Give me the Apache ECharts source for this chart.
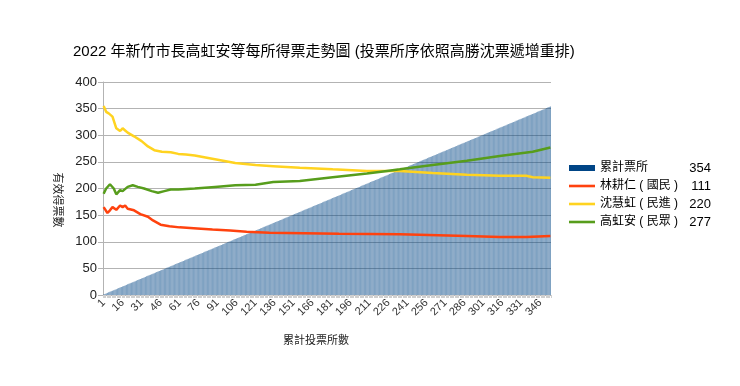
<!DOCTYPE html>
<html>
<head>
<meta charset="utf-8">
<script src="https://cdn.jsdelivr.net/npm/echarts@6/dist/echarts.min.js"></script>
<style>
html,body{margin:0;padding:0;background:#fff;}
#chart{width:740px;height:386px;}
</style>
</head>
<body>
<div id="chart"></div>
<script>
// Cumulative polling-station count (x categories and bar heights)
const stations = [
1,2,3,4,5,6,7,8,9,10,11,12,13,14,15,16,17,18,19,20,21,22,23,24,25,26,27,28,29,30,
31,32,33,34,35,36,37,38,39,40,41,42,43,44,45,46,47,48,49,50,51,52,53,54,55,56,57,58,59,60,
61,62,63,64,65,66,67,68,69,70,71,72,73,74,75,76,77,78,79,80,81,82,83,84,85,86,87,88,89,90,
91,92,93,94,95,96,97,98,99,100,101,102,103,104,105,106,107,108,109,110,111,112,113,114,115,116,117,118,119,120,
121,122,123,124,125,126,127,128,129,130,131,132,133,134,135,136,137,138,139,140,141,142,143,144,145,146,147,148,149,150,
151,152,153,154,155,156,157,158,159,160,161,162,163,164,165,166,167,168,169,170,171,172,173,174,175,176,177,178,179,180,
181,182,183,184,185,186,187,188,189,190,191,192,193,194,195,196,197,198,199,200,201,202,203,204,205,206,207,208,209,210,
211,212,213,214,215,216,217,218,219,220,221,222,223,224,225,226,227,228,229,230,231,232,233,234,235,236,237,238,239,240,
241,242,243,244,245,246,247,248,249,250,251,252,253,254,255,256,257,258,259,260,261,262,263,264,265,266,267,268,269,270,
271,272,273,274,275,276,277,278,279,280,281,282,283,284,285,286,287,288,289,290,291,292,293,294,295,296,297,298,299,300,
301,302,303,304,305,306,307,308,309,310,311,312,313,314,315,316,317,318,319,320,321,322,323,324,325,326,327,328,329,330,
331,332,333,334,335,336,337,338,339,340,341,342,343,344,345,346,347,348,349,350,351,352,353,354
];

const seriesNames = ['累計票所', '林耕仁 ( 國民 )', '沈慧虹 ( 民進 )', '高虹安 ( 民眾 )'];
const legendValues = [354, 111, 220, 277];

// Readings [station index, votes] taken from the reference lines
const linKeys = [[1,165],[4,154],[6,159],[8,165],[11,160],[14,168],[16,165],[18,168],[20,162],[25,159],[30,152],[36,147],[40,140],[46,132],[53,129],[61,127],[75,125],[87,123],[101,121],[114,119],[132,117],[187,115],[235,114],[288,111],[314,109],[335,109],[354,111]];
const shenKeys = [[1,355],[3,344],[5,341],[8,335],[11,313],[14,308],[16,313],[18,309],[20,305],[25,298],[31,289],[36,279],[41,272],[47,269],[54,268],[60,265],[66,264],[73,262],[89,255],[105,248],[121,244],[135,242],[156,239],[182,236],[209,233],[235,233],[261,229],[288,226],[314,224],[335,224],[340,221],[354,220]];
const gaoKeys = [[1,190],[3,200],[6,208],[9,200],[11,189],[14,197],[16,195],[20,203],[24,206],[28,203],[33,200],[39,195],[44,192],[49,195],[54,198],[60,198],[73,200],[89,203],[105,206],[121,207],[135,212],[156,214],[182,221],[209,228],[225,233],[235,236],[261,244],[288,252],[314,261],[340,269],[354,277]];

const colors = ['#004586', '#ff420e', '#ffd320', '#579d1c'];
const FONT = "'Liberation Sans', 'Noto Sans CJK TC', sans-serif";

function toSeries(keys) {
  const arr = stations.map(() => null);
  keys.forEach(([i, v]) => { arr[i - 1] = v; });
  return arr;
}

const categories = stations.map(String);
const chart = echarts.init(document.getElementById('chart'), null, {renderer: 'canvas'});

const lineSeries = [linKeys, shenKeys, gaoKeys].map((keys, k) => ({
  name: seriesNames[k + 1],
  type: 'line',
  data: toSeries(keys),
  connectNulls: true,
  symbol: 'none',
  showSymbol: false,
  lineStyle: {color: colors[k + 1], width: 2.5},
  itemStyle: {color: colors[k + 1]},
  z: 3,
  animation: false
}));

const legendData = seriesNames.map((n, i) => {
  if (i === 0) return {name: n, icon: 'rect', itemStyle: {color: colors[0], opacity: 1}};
  return {name: n, icon: 'path://M0,0L26,0L26,2.6L0,2.6Z', itemStyle: {color: colors[i]}};
});

chart.setOption({
  animation: false,
  textStyle: {fontFamily: FONT},
  title: {
    text: '2022 年新竹市長高虹安等每所得票走勢圖 (投票所序依照高勝沈票遞增重排)',
    left: 73, top: 44, padding: 0,
    textStyle: {fontSize: 15, fontWeight: 'normal', color: '#000', fontFamily: FONT}
  },
  grid: {left: 103, right: 189, top: 82, bottom: 91, containLabel: false},
  legend: {
    orient: 'vertical', left: 569, top: 159, padding: 0,
    itemWidth: 26, itemHeight: 6, itemGap: 0,
    data: legendData,
    formatter: function (name) {
      const idx = seriesNames.indexOf(name);
      return '{n|' + name + '}{v|' + legendValues[idx] + '}';
    },
    textStyle: {
      fontFamily: FONT, fontSize: 12, color: '#000', lineHeight: 18,
      rich: {
        n: {width: 89, fontSize: 12, fontFamily: FONT, color: '#000', lineHeight: 18},
        v: {width: 22, align: 'right', fontSize: 13, fontFamily: FONT, color: '#000', lineHeight: 18}
      }
    }
  },
  xAxis: {
    type: 'category',
    data: categories,
    boundaryGap: true,
    axisLine: {show: true, lineStyle: {color: '#b3b3b3'}},
    axisTick: {show: true, interval: 0, length: 3, lineStyle: {color: '#cfcfcf'}},
    axisLabel: {
      interval: 14, rotate: 45, fontSize: 11, color: '#333', margin: 6, fontFamily: FONT
    },
    splitLine: {show: false}
  },
  yAxis: {
    type: 'value', min: 0, max: 400, interval: 50,
    axisLine: {show: true, lineStyle: {color: '#b3b3b3'}},
    axisTick: {show: true, length: 5, lineStyle: {color: '#b3b3b3'}},
    axisLabel: {fontSize: 13, color: '#222', margin: 6, fontFamily: FONT},
    splitLine: {show: true, lineStyle: {color: '#b3b3b3', width: 1}}
  },
  graphic: [
    {type: 'text', left: 283, top: 335, style: {text: '累計投票所數', fill: '#222', font: '11px ' + FONT}},
    {type: 'text', x: 57, y: 200, rotation: -Math.PI / 2,
     style: {text: '有效得票數', fill: '#222', font: '11px ' + FONT, align: 'center', verticalAlign: 'middle'}}
  ],
  series: [
    {
      name: seriesNames[0],
      type: 'bar',
      data: stations.slice(),
      barCategoryGap: '0%',
      itemStyle: {color: 'rgba(0,69,134,0.5)'},
      z: 1,
      animation: false
    }
  ].concat(lineSeries)
});
</script>
</body>
</html>
